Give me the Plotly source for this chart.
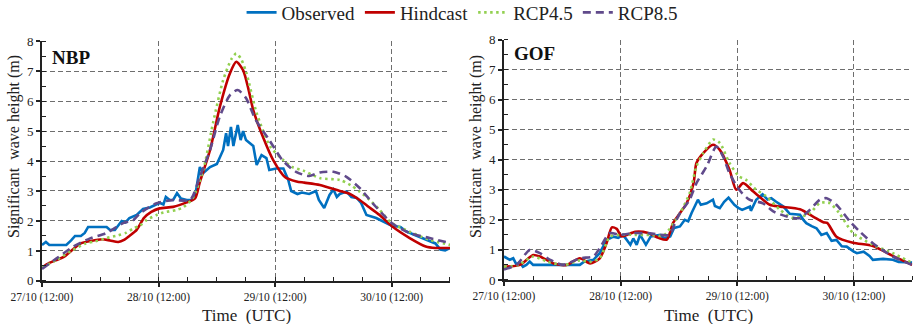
import pandas as pd
import plotly.graph_objects as go

BASE = pd.Timestamp("2020-10-27 12:00")

# ---------------- NBP (left) ----------------
nbp_obs_t = [0, 0.8, 1.5, 5, 6, 6.8, 8, 8.8, 9.5, 13.3, 14, 15, 16.4, 17.2, 18, 19.5, 20.8, 22.2, 23.5,
             24.3, 25, 25.5, 26.3, 27, 27.8, 28.6, 29.8, 30.8, 31.5, 32.5, 33.2, 34.6, 36, 37.3, 37.9, 38.3,
             38.9, 39.4, 40.3, 40.9, 41.4, 42, 43.5, 44.2, 45.2, 46.2, 46.8, 48.2, 49.7, 50.7, 51.3, 52.6,
             53.5, 55, 56.4, 57, 58.1, 59.2, 60, 60.7, 61.3, 62.7, 63.7, 64.8, 65.7, 66.8, 68.8, 70, 72,
             73.8, 75, 76.5, 78.3, 79.5, 81, 82, 83, 84]
nbp_obs_v = [1.2, 1.3, 1.2, 1.2, 1.35, 1.5, 1.5, 1.6, 1.8, 1.8, 1.7, 1.7, 2.0, 1.95, 2.1, 2.2, 2.4, 2.45, 2.55,
             2.6, 2.55, 2.8, 2.7, 2.7, 2.93, 2.75, 2.7, 2.7, 2.8, 3.8, 3.6, 3.8, 3.9, 4.37, 4.93, 4.5,
             5.14, 4.5, 5.2, 4.7, 5.0, 4.7, 4.5, 3.87, 4.2, 4.1, 3.7, 3.75, 3.75, 3.37, 3.0, 2.9,
             2.95, 2.9, 3.0, 2.7, 2.43, 2.87, 3.05, 2.8, 2.9, 2.98, 2.8, 2.77, 2.6, 2.2, 2.1, 2.0, 1.84,
             1.8, 1.65, 1.55, 1.42, 1.35, 1.25, 1.05, 1.02, 1.1]

nbp_hind_t = [0, 1.5, 3, 4.5, 6, 8, 10, 12.4, 14, 15.7, 17, 18, 19.5, 21, 22.5, 24.2, 27, 29.8, 31.5, 32.5,
              34.6, 36.6, 38.7, 40, 41.4, 42.5, 43.5, 45.5, 47.6, 50, 52.4, 54, 57.2, 61.3, 63.4, 65.4,
              67, 69.5, 72, 75.7, 79, 81, 84]
nbp_hind_v = [0.45, 0.6, 0.7, 0.8, 1.0, 1.25, 1.33, 1.39, 1.35, 1.3, 1.38, 1.5, 1.7, 2.1, 2.3, 2.42, 2.47,
              2.62, 2.75, 3.3, 4.37, 5.8, 6.93, 7.31, 7.03, 6.4, 5.7, 4.8, 4.03, 3.47, 3.32, 3.28, 3.2,
              3.0, 2.9, 2.7, 2.5, 2.2, 1.83, 1.43, 1.15, 1.1, 1.1]

nbp_r45_t = [0, 3, 6, 9, 11, 13.3, 15.7, 17.4, 18.8, 20.2, 21.5, 23.6, 25, 27.7, 29, 31, 33.2, 35.2, 37.3,
             39, 40, 41, 42.1, 44.2, 47, 49.7, 51.5, 53.8, 57.2, 61.3, 63.5, 65.4, 67.5, 69.5, 72, 75.7,
             79.8, 84]
nbp_r45_v = [0.45, 0.7, 1.0, 1.25, 1.32, 1.43, 1.52, 1.61, 1.75, 1.85, 2.03, 2.2, 2.28, 2.37, 2.45, 2.75,
             3.7, 5.26, 6.7, 7.4, 7.59, 7.4, 6.93, 5.6, 4.48, 4.03, 3.8, 3.68, 3.43, 3.37, 3.2, 2.98,
             2.7, 2.37, 1.93, 1.64, 1.37, 1.2]

nbp_r85_t = [0, 3, 6.4, 9.9, 13.3, 16.7, 18.8, 20.2, 23.6, 27, 30.5, 32.5, 34.6, 36.6, 38.7, 40.3, 42, 44,
             46.8, 49.5, 52.3, 55, 57.2, 60, 62.6, 65.4, 68.1, 72, 75.7, 79.8, 84]
nbp_r85_v = [0.4, 0.75, 1.14, 1.42, 1.6, 1.93, 2.03, 2.26, 2.59, 2.7, 2.7, 3.48, 4.37, 5.48, 6.2, 6.37,
             6.1, 5.37, 4.7, 4.03, 3.64, 3.5, 3.62, 3.64, 3.48, 3.1, 2.59, 1.93, 1.6, 1.43, 1.26]

# ---------------- GOF (right) ----------------
gof_obs_t = [0, 0.6, 1.2, 1.9, 2.6, 3.2, 3.9, 4.6, 5.3, 6, 15.6, 16.5, 18.4, 19.7, 21.1, 22.5, 23.5, 24.5,
             25.3, 26, 26.6, 27.3, 28, 29.2, 30.2, 32.1, 33, 34.2, 35, 36.2, 37.2, 37.9, 38.6, 39.3, 39.9,
             40.5, 41.7, 43, 43.4, 44.4, 45.3, 46.2, 47.4, 48.2, 49, 50.6, 50.8, 51.9, 53.2, 54.2, 55, 56,
             57.5, 58.8, 60.9, 61.6, 62.2, 63.3, 64.3, 65.3, 66.4, 67.4, 68.4, 69.5, 70.5, 71.9, 72.6, 74,
             75.2, 75.9, 78, 80, 81.2, 84]
gof_obs_v = [0.78, 0.72, 0.67, 0.72, 0.5, 0.6, 0.44, 0.5, 0.61, 0.5, 0.5, 0.61, 0.67, 0.89, 1.33, 1.44, 1.4,
             1.5, 1.33, 1.17, 1.38, 1.17, 1.5, 1.17, 1.45, 1.5, 1.38, 1.45, 1.73, 1.78, 2.0, 1.95, 2.23,
             2.44, 2.67, 2.5, 2.55, 2.67, 2.46, 2.39, 2.6, 2.74, 2.5, 2.4, 2.33, 2.44, 2.3, 2.67, 2.85,
             2.68, 2.72, 2.6, 2.44, 2.2, 2.17, 2.0, 1.89, 1.79, 1.72, 1.5, 1.56, 1.3, 1.33, 1.12, 1.11,
             0.95, 0.89, 0.94, 0.8, 0.67, 0.7, 0.67, 0.6, 0.58]

gof_hind_t = [0, 3.3, 6, 7.4, 10.2, 12.9, 15.6, 17.7, 19.7, 21.1, 22.2, 23.2, 24.2, 27, 29.7, 31.8, 33.5,
              34.8, 36.2, 37.6, 39, 39.6, 41, 43, 44.4, 46.4, 47.8, 49.2, 51.3, 53.3, 54.7, 56.8, 60.9,
              63.6, 65.7, 66.5, 68.4, 71.8, 75.9, 80, 84]
gof_hind_v = [0.44, 0.5, 0.83, 0.78, 0.55, 0.5, 0.72, 0.55, 0.72, 1.22, 1.75, 1.7, 1.45, 1.6, 1.56, 1.4,
              1.34, 1.9, 2.22, 2.56, 3.22, 3.89, 4.22, 4.5, 4.33, 3.67, 3.0, 3.22, 2.94, 2.67, 2.5, 2.44,
              2.35, 2.11, 1.92, 1.9, 1.44, 1.24, 1.13, 0.8, 0.5]

gof_r45_t = [0, 3, 6, 9, 12.5, 15.6, 17.7, 19.7, 21.8, 23.9, 27, 30, 32.8, 36.2, 38.2, 39.6, 41, 43, 44.4,
             46.4, 48.4, 49.8, 51.9, 54, 56.8, 59.5, 62.9, 65, 67, 69, 71.8, 75.9, 80, 84]
gof_r45_v = [0.44, 0.5, 0.78, 0.6, 0.5, 0.65, 0.6, 0.72, 1.44, 1.5, 1.5, 1.5, 1.48, 2.22, 2.89, 3.78, 4.22,
             4.67, 4.56, 3.89, 3.44, 3.33, 3.0, 2.78, 2.33, 2.06, 2.22, 2.56, 2.56, 2.22, 1.56, 1.17,
             0.89, 0.56]

gof_r85_t = [0, 2.6, 5.3, 7.4, 9.5, 12.2, 15.6, 18.4, 19.7, 21.8, 23.9, 26.6, 30, 34, 35.2, 36.2, 38.2,
             39.6, 41.7, 43.7, 45.1, 46.4, 48.4, 50.5, 53.3, 55.4, 58.2, 60.9, 62.9, 65, 66.4, 68.4, 71.2,
             73.2, 75.9, 80, 84]
gof_r85_v = [0.35, 0.5, 1.0, 0.89, 0.67, 0.5, 0.72, 0.78, 1.06, 1.56, 1.5, 1.56, 1.55, 1.5, 1.9, 2.22,
             2.67, 3.22, 3.78, 4.44, 4.1, 3.55, 3.0, 2.67, 2.55, 2.28, 2.11, 2.06, 2.33, 2.67, 2.72, 2.5,
             1.94, 1.61, 1.22, 0.78, 0.5]

panel_names = ["NBP", "GOF"]
series_names = ["Observed", "Hindcast", "RCP4.5", "RCP8.5"]
x_tick_hours = [0, 24, 48, 72]
y_ticks = [0, 1, 2, 3, 4, 5, 6, 7, 8]


def tt(hours):
    return [BASE + pd.Timedelta(hours=h) for h in hours]


styles = {
    "Observed": dict(color="#0070C0", width=2.6, dash="solid", shape="linear"),
    "Hindcast": dict(color="#C00000", width=2.6, dash="solid", shape="spline"),
    "RCP4.5": dict(color="#92D050", width=2.6, dash="2.5px,3.5px", shape="spline"),
    "RCP8.5": dict(color="#604A8B", width=2.6, dash="8px,5px", shape="spline"),
}

panels = [
    [(nbp_obs_t, nbp_obs_v), (nbp_hind_t, nbp_hind_v), (nbp_r45_t, nbp_r45_v), (nbp_r85_t, nbp_r85_v)],
    [(gof_obs_t, gof_obs_v), (gof_hind_t, gof_hind_v), (gof_r45_t, gof_r45_v), (gof_r85_t, gof_r85_v)],
]

fig = go.Figure()
for p, data in enumerate(panels):
    xa = "x" if p == 0 else "x2"
    ya = "y" if p == 0 else "y2"
    for name, (t, v) in zip(series_names, data):
        s = styles[name]
        line = dict(color=s["color"], width=s["width"], dash=s["dash"], shape=s["shape"])
        if s["shape"] == "spline":
            line["smoothing"] = 0.7
        fig.add_trace(go.Scatter(x=tt(t), y=v, mode="lines", name=name, line=line,
                                 xaxis=xa, yaxis=ya, showlegend=(p == 0)))

FONT = "'Liberation Serif', 'Times New Roman', Times, serif"
GRID = "#6e6e6e"
x_range = [BASE, BASE + pd.Timedelta(hours=84)]
xticks = tt(x_tick_hours)

common_x = dict(
    type="date", range=x_range, tickvals=xticks, tickformat="%d/%m (%H:%M)",
    showgrid=True, gridcolor=GRID, griddash="5px,3px", gridwidth=1,
    showline=True, linecolor="#222222", linewidth=2,
    ticks="outside", ticklen=4, tickwidth=1.5, tickcolor="#222222",
    tickfont=dict(family=FONT, size=11.5, color="#222222"),
    minor=dict(dtick=6 * 3600 * 1000, tick0=BASE, ticks="inside", ticklen=4, tickwidth=1.2,
               tickcolor="#222222", showgrid=False),
    zeroline=False, fixedrange=True, automargin=False,
)
common_y = dict(
    range=[0, 8], tickvals=y_ticks,
    showgrid=True, gridcolor=GRID, griddash="5px,3px", gridwidth=1,
    showline=True, linecolor="#222222", linewidth=2,
    ticks="outside", ticklen=4, tickwidth=1.5, tickcolor="#222222",
    tickfont=dict(family=FONT, size=13, color="#222222"),
    minor=dict(dtick=0.5, ticks="inside", ticklen=4, tickwidth=1.2, tickcolor="#222222", showgrid=False),
    zeroline=False, fixedrange=True, automargin=False,
)

fig.update_layout(
    width=915, height=324,
    margin=dict(l=0, r=0, t=0, b=0, autoexpand=False),
    paper_bgcolor="white", plot_bgcolor="white",
    font=dict(family=FONT, color="#222222"),
    xaxis=dict(domain=[0.0459, 0.4918], anchor="y", **common_x),
    yaxis=dict(domain=[0.133, 0.873], anchor="x", **common_y),
    xaxis2=dict(domain=[0.5508, 0.997], anchor="y2", **common_x),
    yaxis2=dict(domain=[0.136, 0.878], anchor="x2", **common_y),
    legend=dict(orientation="h", x=0.505, xanchor="center", y=1.02, yanchor="top",
                font=dict(family=FONT, size=19, color="#222222"), bgcolor="rgba(0,0,0,0)",
                itemwidth=30, tracegroupgap=0),
    showlegend=True,
)

annots = []
centers_x = [(42 + 450) / 2 / 915, (504 + 912) / 2 / 915]
ytitle_x = [14 / 915, 476 / 915]
label_x = [50 / 915, 512 / 915]
label_y = [1 - 57 / 324, 1 - 53 / 324]
for p in range(2):
    annots.append(dict(text="Time  (UTC)", x=centers_x[p], y=1 - 315 / 324, xref="paper", yref="paper",
                       showarrow=False, font=dict(family=FONT, size=17, color="#222222"),
                       xanchor="center", yanchor="middle"))
    annots.append(dict(text="Significant  wave height (m)", x=ytitle_x[p], y=1 - 147 / 324,
                       xref="paper", yref="paper", showarrow=False, textangle=-90,
                       font=dict(family=FONT, size=16, color="#222222"),
                       xanchor="center", yanchor="middle"))
    annots.append(dict(text="<b>" + panel_names[p] + "</b>", x=label_x[p], y=label_y[p],
                       xref="paper", yref="paper", showarrow=False,
                       font=dict(family=FONT, size=19, color="#111111"),
                       xanchor="left", yanchor="middle"))
fig.update_layout(annotations=annots)

fig.write_html("out.html")
